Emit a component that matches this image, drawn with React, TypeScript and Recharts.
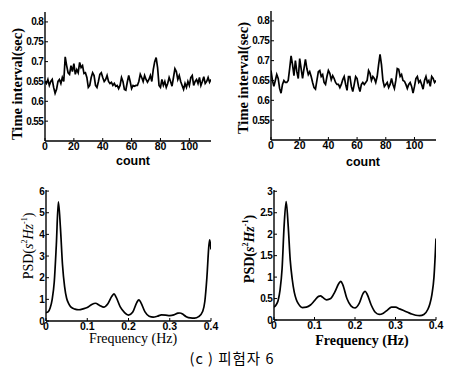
import React from 'react';
import { LineChart, Line, XAxis, YAxis } from 'recharts';

const countTicks = [0, 20, 40, 60, 80, 100];
const intervalTicks = [0.55, 0.6, 0.65, 0.7, 0.75, 0.8];
const freqTicks = [0, 0.1, 0.2, 0.3, 0.4];
const psdLeftTicks = [0, 1, 2, 3, 4, 5, 6];
const psdRightTicks = [0, 0.5, 1, 1.5, 2, 2.5, 3];

const intervalsLeft = [
  0.650, 0.645, 0.655, 0.640, 0.650, 0.655, 0.635, 0.620, 0.630, 0.650,
  0.655, 0.645, 0.660, 0.650, 0.712, 0.690, 0.672, 0.668, 0.690, 0.675,
  0.695, 0.668, 0.680, 0.672, 0.698, 0.685, 0.690, 0.670, 0.672, 0.660,
  0.635, 0.640, 0.660, 0.672, 0.665, 0.640, 0.635, 0.650, 0.668, 0.672,
  0.660, 0.650, 0.655, 0.665, 0.650, 0.645, 0.648, 0.640, 0.645, 0.638,
  0.640, 0.632, 0.640, 0.660, 0.650, 0.630, 0.628, 0.648, 0.665, 0.650,
  0.632, 0.640, 0.638, 0.640, 0.640, 0.650, 0.668, 0.660, 0.650, 0.665,
  0.655, 0.648, 0.655, 0.665, 0.650, 0.680, 0.700, 0.710, 0.685, 0.640,
  0.635, 0.655, 0.640, 0.650, 0.635, 0.645, 0.660, 0.650, 0.638, 0.660,
  0.682, 0.675, 0.655, 0.665, 0.650, 0.640, 0.630, 0.645, 0.635, 0.650,
  0.640, 0.660, 0.665, 0.640, 0.650, 0.655, 0.645, 0.660, 0.640, 0.650,
  0.662, 0.645, 0.650, 0.660, 0.648, 0.655,
];

const intervalsRight = [
  0.675, 0.650, 0.635, 0.650, 0.665, 0.655, 0.630, 0.618, 0.640, 0.650,
  0.645, 0.645, 0.650, 0.680, 0.712, 0.690, 0.662, 0.700, 0.672, 0.655,
  0.705, 0.680, 0.655, 0.680, 0.703, 0.680, 0.665, 0.672, 0.660, 0.645,
  0.632, 0.628, 0.650, 0.672, 0.675, 0.660, 0.665, 0.645, 0.640, 0.660,
  0.675, 0.668, 0.652, 0.662, 0.655, 0.645, 0.640, 0.640, 0.632, 0.640,
  0.652, 0.660, 0.640, 0.625, 0.660, 0.660, 0.635, 0.622, 0.640, 0.660,
  0.655, 0.635, 0.622, 0.640, 0.645, 0.640, 0.645, 0.650, 0.675, 0.668,
  0.650, 0.660, 0.655, 0.645, 0.660, 0.690, 0.716, 0.690, 0.650, 0.635,
  0.640, 0.645, 0.632, 0.640, 0.655, 0.640, 0.630, 0.650, 0.680, 0.678,
  0.660, 0.665, 0.650, 0.648, 0.640, 0.630, 0.640, 0.645, 0.635, 0.618,
  0.635, 0.655, 0.660, 0.645, 0.650, 0.640, 0.628, 0.650, 0.660, 0.645,
  0.650, 0.635, 0.660, 0.655, 0.645, 0.650,
];

const psdFreqLeft = [
  0.000, 0.005, 0.010, 0.015, 0.020, 0.025, 0.030, 0.035, 0.040, 0.045,
  0.050, 0.055, 0.060, 0.070, 0.080, 0.090, 0.100, 0.110, 0.120, 0.130,
  0.140, 0.150, 0.160, 0.165, 0.170, 0.180, 0.190, 0.200, 0.210, 0.220,
  0.225, 0.230, 0.240, 0.250, 0.260, 0.270, 0.280, 0.290, 0.300, 0.310,
  0.320, 0.325, 0.330, 0.340, 0.350, 0.360, 0.370, 0.380, 0.385, 0.390,
  0.395, 0.397, 0.400,
];
const psdValuesLeft = [
  0.38, 0.42, 0.60, 1.00, 1.80, 3.50, 5.50, 4.30, 2.60, 1.60,
  1.05, 0.80, 0.65, 0.55, 0.52, 0.56, 0.62, 0.75, 0.82, 0.72,
  0.64, 0.80, 1.15, 1.25, 1.10, 0.65, 0.40, 0.27, 0.40, 0.85,
  0.98, 0.85, 0.42, 0.22, 0.18, 0.22, 0.28, 0.27, 0.25, 0.28,
  0.36, 0.37, 0.33, 0.20, 0.14, 0.13, 0.20, 0.45, 0.90, 2.00,
  3.50, 3.75, 3.30,
];

const psdFreqRight = [
  0.000, 0.005, 0.010, 0.015, 0.020, 0.025, 0.030, 0.035, 0.040, 0.045,
  0.050, 0.055, 0.060, 0.070, 0.080, 0.090, 0.100, 0.110, 0.115, 0.120,
  0.130, 0.140, 0.150, 0.160, 0.165, 0.170, 0.180, 0.190, 0.200, 0.210,
  0.220, 0.225, 0.230, 0.240, 0.250, 0.260, 0.270, 0.280, 0.290, 0.300,
  0.310, 0.320, 0.330, 0.340, 0.350, 0.360, 0.370, 0.380, 0.385, 0.390,
  0.395, 0.400,
];
const psdValuesRight = [
  0.30, 0.35, 0.45, 0.70, 1.20, 2.20, 2.76, 2.20, 1.40, 0.95,
  0.65, 0.48, 0.38, 0.29, 0.30, 0.35, 0.45, 0.55, 0.56, 0.53,
  0.47, 0.50, 0.65, 0.85, 0.90, 0.82, 0.50, 0.33, 0.28, 0.38,
  0.62, 0.67, 0.60, 0.35, 0.18, 0.13, 0.16, 0.23, 0.30, 0.30,
  0.26, 0.22, 0.18, 0.14, 0.11, 0.10, 0.13, 0.25, 0.38, 0.60,
  1.00, 1.90,
];

const tlData = intervalsLeft.map((v, i) => ({ x: i, y: v }));
const trData = intervalsRight.map((v, i) => ({ x: i, y: v }));
const blData = psdFreqLeft.map((f, i) => ({ x: f, y: psdValuesLeft[i] }));
const brData = psdFreqRight.map((f, i) => ({ x: f, y: psdValuesRight[i] }));

const xTickStyle = { fill: '#000', fontSize: 10.5, fontWeight: 'bold', fontFamily: 'Liberation Sans, Arial, sans-serif' };
const yTickStyle = { fill: '#000', fontSize: 10, fontWeight: 'bold', fontFamily: 'Liberation Sans, Arial, sans-serif', letterSpacing: -0.7 };

type PanelProps = {
  left: number; top: number; width: number; height: number;
  margin: { top: number; right: number; bottom: number; left: number };
  yWidth: number;
  data: { x: number; y: number }[];
  xDomain: [number, number]; xTicks: number[];
  yDomain: [number, number]; yTicks: number[];
  curve: 'linear' | 'monotone';
};

function Panel(p: PanelProps) {
  const blank = () => '';
  return (
    <div style={{ position: 'absolute', left: p.left, top: p.top }}>
      <LineChart width={p.width} height={p.height} data={p.data} margin={p.margin}>
        <XAxis xAxisId="b" dataKey="x" type="number" domain={p.xDomain} ticks={p.xTicks} allowDataOverflow interval={0}
          height={24} tickSize={-3} tickMargin={5} stroke="#000" tick={xTickStyle} axisLine={{ stroke: '#000', strokeWidth: 1.4 }} />
        <XAxis xAxisId="t" orientation="top" dataKey="x" type="number" domain={p.xDomain} ticks={p.xTicks} allowDataOverflow interval={0}
          height={0} tickSize={-3} tickFormatter={blank} stroke="#000" axisLine={{ stroke: '#000', strokeWidth: 1.4 }} />
        <YAxis yAxisId="l" type="number" domain={p.yDomain} ticks={p.yTicks} allowDataOverflow interval={0}
          width={p.yWidth} tickSize={-3} tickMargin={5} stroke="#000" tick={yTickStyle} axisLine={{ stroke: '#000', strokeWidth: 1.4 }} />
        <YAxis yAxisId="r" orientation="right" type="number" domain={p.yDomain} ticks={p.yTicks} allowDataOverflow interval={0}
          width={0} tickSize={-3} tickFormatter={blank} stroke="#000" axisLine={{ stroke: '#000', strokeWidth: 1.4 }} />
        <Line xAxisId="b" yAxisId="l" dataKey="y" type={p.curve} stroke="#000" strokeWidth={1.7} dot={false} isAnimationActive={false} />
      </LineChart>
    </div>
  );
}

function Label({ x, y, rotate, children, style }: { x: number; y: number; rotate?: boolean; children: React.ReactNode; style?: React.CSSProperties }) {
  return (
    <div style={{
      position: 'absolute', left: x, top: y, whiteSpace: 'nowrap', lineHeight: 1, color: '#000',
      transform: `translate(-50%, -50%)${rotate ? ' rotate(-90deg)' : ''}`,
      ...style,
    }}>{children}</div>
  );
}

const serif: React.CSSProperties = { fontFamily: 'Liberation Serif, Times New Roman, serif', fontSize: 13.5 };
const sansBold: React.CSSProperties = { fontFamily: 'Liberation Sans, Arial, sans-serif', fontSize: 12.5, fontWeight: 'bold' };

function PsdLabel() {
  return (
    <span>PSD(<i>s</i><sup style={{ fontSize: 8 }}>2</sup><i>Hz</i><sup style={{ fontSize: 8 }}>-1</sup>)</span>
  );
}

export default function App() {
  return (
    <div style={{ position: 'absolute', left: 0, top: 0, width: 449, height: 367, background: '#fff', overflow: 'hidden' }}>
      <Panel left={0} top={0} width={225} height={165} margin={{ top: 12, right: 14, bottom: 0, left: 0 }} yWidth={45}
        data={tlData} xDomain={[0, 115]} xTicks={countTicks} yDomain={[0.5, 0.825]} yTicks={intervalTicks} curve="linear" />
      <Panel left={225} top={0} width={225} height={164} margin={{ top: 11, right: 14, bottom: 0, left: 0 }} yWidth={46}
        data={trData} xDomain={[0, 115]} xTicks={countTicks} yDomain={[0.5, 0.825]} yTicks={intervalTicks} curve="linear" />
      <Panel left={0} top={180} width={225} height={165} margin={{ top: 10, right: 14, bottom: 0, left: 0 }} yWidth={46}
        data={blData} xDomain={[0, 0.4]} xTicks={freqTicks} yDomain={[0, 6.05]} yTicks={psdLeftTicks} curve="monotone" />
      <Panel left={225} top={180} width={225} height={164} margin={{ top: 10, right: 14, bottom: 0, left: 0 }} yWidth={49}
        data={brData} xDomain={[0, 0.4]} xTicks={freqTicks} yDomain={[0, 3.03]} yTicks={psdRightTicks} curve="monotone" />

      <Label x={17} y={84} rotate style={{ ...serif, fontWeight: 'bold', fontSize: 14.5 }}>Time interval(sec)</Label>
      <Label x={243} y={78} rotate style={{ ...serif, fontWeight: 'bold', fontSize: 14.5 }}>Time interval(sec)</Label>
      <Label x={133} y={161} style={sansBold}>count</Label>
      <Label x={363} y={162} style={sansBold}>count</Label>

      <Label x={28} y={246} rotate style={{ ...serif, fontSize: 14 }}><PsdLabel /></Label>
      <Label x={249} y={249} rotate style={{ ...serif, fontSize: 14, fontWeight: 'bold' }}><PsdLabel /></Label>
      <Label x={133} y={339} style={{ ...serif, fontSize: 14 }}>Frequency (Hz)</Label>
      <Label x={362} y={341} style={{ ...serif, fontSize: 14, fontWeight: 'bold' }}>Frequency (Hz)</Label>

      <Label x={232} y={358} style={{ fontFamily: 'Noto Sans CJK KR, Noto Sans, sans-serif', fontSize: 14.5, letterSpacing: 1 }}>(c ) 피험자 6</Label>
    </div>
  );
}
